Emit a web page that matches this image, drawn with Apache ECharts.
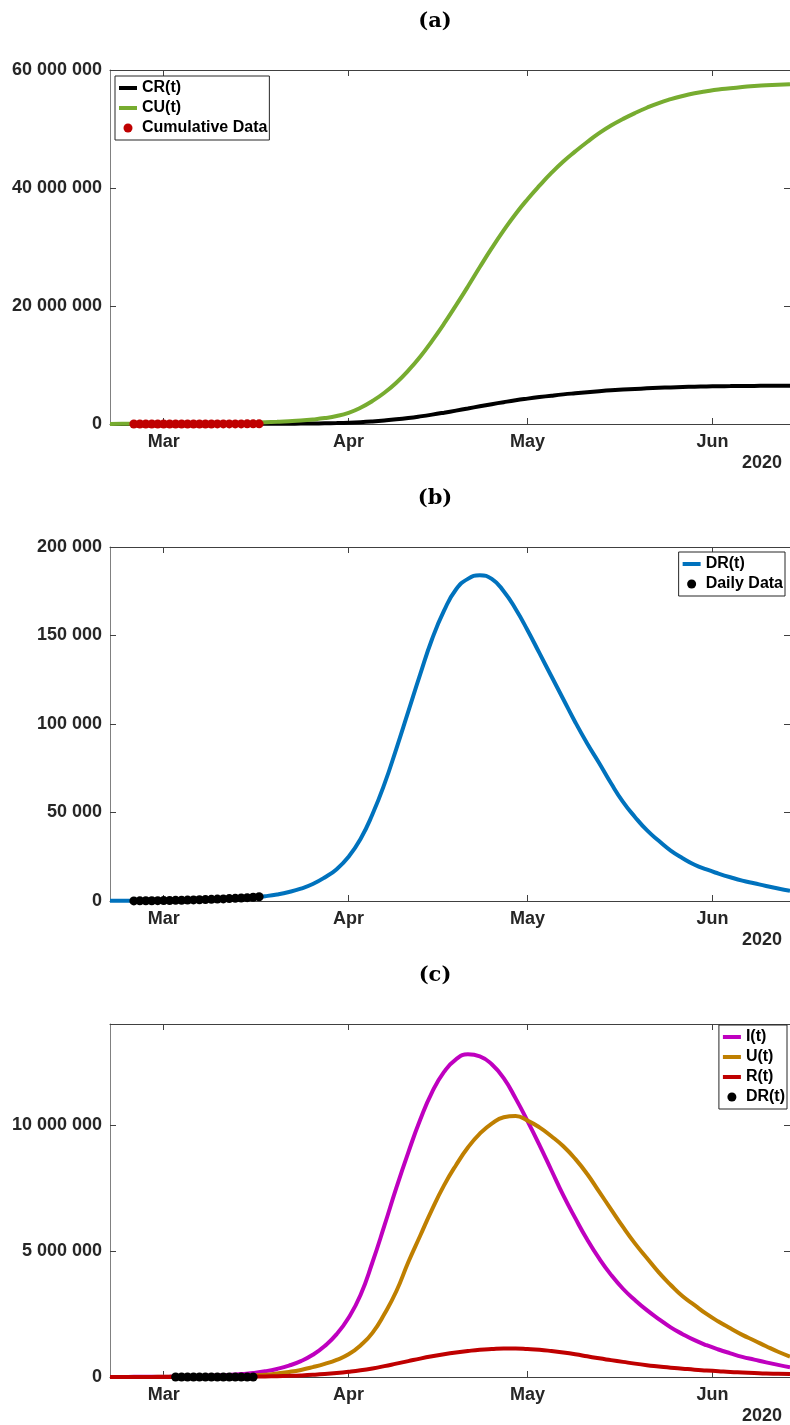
<!DOCTYPE html>
<html>
<head>
<meta charset="utf-8">
<script src="https://cdn.jsdelivr.net/npm/echarts@6/dist/echarts.min.js"></script>
<style>
  html, body { margin: 0; padding: 0; background: #fff; }
  #main { width: 790px; height: 1425px; }
</style>
</head>
<body>
<div id="main"></div>
<script>
// model curves, every 2 days
// (days counted from 1 Mar 2020: -9 = 21 Feb, 105 = 14 Jun)
var modelDays = [-9,-7,-5,-3,-1,1,3,5,7,9,11,13,15,17,19,21,23,25,27,29,31,33,35,37,39,41,43,45,
  47,49,51,53,55,57,59,61,63,65,67,69,71,73,75,77,79,81,83,85,87,89,91,93,95,97,99,101,103,105];

// (a) cumulative, millions
var crM = [0.002,0.0025,0.003,0.0035,0.004,0.005,0.006,0.008,0.01,0.013,0.017,0.021,0.027,0.034,
  0.042,0.052,0.065,0.086,0.113,0.152,0.215,0.31,0.44,0.6,0.79,1.02,1.29,1.59,1.92,2.27,2.63,3.0,
  3.36,3.7,4.02,4.3,4.56,4.8,5.02,5.21,5.39,5.56,5.71,5.83,5.94,6.04,6.13,6.2,6.27,6.32,6.36,6.4,
  6.42,6.44,6.46,6.48,6.49,6.5];
var cuM = [0.02,0.022,0.026,0.03,0.036,0.044,0.055,0.07,0.09,0.115,0.15,0.19,0.24,0.3,0.37,0.46,
  0.58,0.76,1.0,1.35,1.9,2.75,3.9,5.3,7.0,9.05,11.4,14.1,17.0,20.1,23.3,26.6,29.8,32.8,35.6,38.1,
  40.4,42.55,44.5,46.2,47.8,49.3,50.6,51.7,52.7,53.6,54.4,55.05,55.6,56.05,56.4,56.7,56.9,57.1,
  57.3,57.4,57.5,57.6];

// (b) daily reported, thousands
var drK = [0.1,0.12,0.15,0.2,0.27,0.35,0.44,0.55,0.68,0.85,1.1,1.45,1.95,2.7,3.7,5.1,7.0,9.6,13.3,
  18,25,35,49,66,86,107,128,148,164,176,182,184,182,175,165,153,140,127,114,101,89,78,66.5,56,
  47.5,40,34,28.5,24.2,20.5,17.8,15.5,13.4,11.5,10,8.5,7.1,5.8];

// (c) compartments, millions
var iM = [0.003,0.004,0.006,0.008,0.011,0.015,0.021,0.03,0.042,0.058,0.082,0.115,0.16,0.225,0.32,
  0.45,0.63,0.88,1.23,1.7,2.35,3.25,4.55,6.0,7.5,8.9,10.2,11.3,12.1,12.6,12.8,12.72,12.4,11.85,
  11.05,10.15,9.2,8.2,7.2,6.3,5.45,4.7,4.05,3.5,3.05,2.65,2.3,1.97,1.7,1.46,1.26,1.09,0.94,0.8,
  0.69,0.58,0.48,0.39];
var uM = [0.002,0.0025,0.003,0.004,0.005,0.007,0.009,0.012,0.016,0.022,0.03,0.04,0.06,0.09,0.14,
  0.2,0.28,0.39,0.52,0.68,0.9,1.25,1.75,2.5,3.4,4.55,5.6,6.65,7.6,8.4,9.1,9.65,10.05,10.3,10.35,
  10.17,9.9,9.55,9.15,8.65,8.05,7.35,6.65,5.95,5.3,4.72,4.15,3.65,3.2,2.85,2.5,2.2,1.93,1.67,1.45,
  1.22,1.0,0.81];
var rM = [0,0,0.001,0.001,0.001,0.002,0.002,0.003,0.004,0.005,0.007,0.01,0.015,0.022,0.032,0.045,
  0.062,0.085,0.115,0.155,0.205,0.265,0.34,0.43,0.53,0.63,0.73,0.82,0.9,0.97,1.03,1.08,1.11,1.13,
  1.13,1.11,1.08,1.03,0.97,0.9,0.82,0.74,0.67,0.6,0.53,0.47,0.42,0.37,0.33,0.29,0.26,0.23,0.2,
  0.18,0.16,0.14,0.13,0.12];

// reported data points (25 Feb .. 17 Mar)
var dataDays = [-5,-4,-3,-2,-1,0,1,2,3,4,5,6,7,8,9,10,11,12,13,14,15,16];
var cumData = [322,400,650,888,1128,1694,2036,2502,3089,3858,4636,5883,7375,9172,10149,12462,
  15113,17660,21157,24747,27980,31506];
var dailyData = [60,80,110,150,190,240,300,360,430,510,600,700,810,930,1060,1200,1350,1520,
  1700,1900,2150,2400];
// (c) DR(t) points (3 Mar .. 16 Mar)
var drDays = [2,3,4,5,6,7,8,9,10,11,12,13,14,15];
var drData = [360,430,510,600,700,810,930,1060,1200,1350,1520,1700,1900,2150];

var monthTicks = [0, 31, 61, 92];
var monthLabels = ['Mar', 'Apr', 'May', 'Jun'];
var panelTitles = ['(a)', '(b)', '(c)'];
var xMin = -9, xMax = 105;

var gridTops = [70, 547, 1024];
var gridH = [354, 354, 353];

function pairs(days, vals, k) {
  return days.map(function (d, i) { return [d, vals[i] * k]; });
}
function spaced(v) {
  return String(v).replace(/\B(?=(\d{3})+(?!\d))/g, ' ');
}

var axisCol = '#404040';
var labelFont = { fontSize: 18, fontWeight: 'bold', color: '#262626', fontFamily: 'Liberation Sans' };

var grids = [], xAxes = [], yAxes = [], graphics = [];
[0, 1, 2].forEach(function (i) {
  grids.push({ left: 110, top: gridTops[i], width: 681, height: gridH[i] });
  // bottom axis with month labels
  xAxes.push({
    type: 'value', gridIndex: i, min: xMin, max: xMax, position: 'bottom',
    axisLine: { show: true, onZero: false, lineStyle: { color: axisCol, width: 1 } },
    axisTick: { show: true, inside: true, length: 6, customValues: monthTicks, lineStyle: { color: axisCol } },
    axisLabel: Object.assign({
      show: true, margin: 9, customValues: monthTicks,
      formatter: function (v) { return monthLabels[monthTicks.indexOf(v)] || ''; }
    }, labelFont),
    splitLine: { show: false }
  });
  // top mirror (box)
  xAxes.push({
    type: 'value', gridIndex: i, min: xMin, max: xMax, position: 'top',
    axisLine: { show: true, onZero: false, lineStyle: { color: axisCol, width: 1 } },
    axisTick: { show: true, inside: true, length: 6, customValues: monthTicks, lineStyle: { color: axisCol } },
    axisLabel: { show: false },
    splitLine: { show: false }
  });
  graphics.push({
    type: 'text', x: 435, y: gridTops[i] - 48,
    style: { text: panelTitles[i], font: 'bold 21px "DejaVu Serif"', fill: '#000',
      align: 'center', verticalAlign: 'middle' }
  });
  graphics.push({
    type: 'text', x: 782, y: gridTops[i] + gridH[i] + 39,
    style: { text: '2020', font: 'bold 18px "Liberation Sans"', fill: '#262626',
      align: 'right', verticalAlign: 'middle' }
  });
});

var yMax = [60000000, 200000, 14000000];
var yStep = [20000000, 50000, 5000000];
[0, 1, 2].forEach(function (i) {
  yAxes.push({
    type: 'value', gridIndex: i, min: 0, max: yMax[i], interval: yStep[i], position: 'left',
    axisLine: { show: true, onZero: false, lineStyle: { color: '#808080', width: 1 } },
    axisTick: { show: true, inside: true, length: 6, lineStyle: { color: axisCol } },
    axisLabel: Object.assign({ margin: 8, showMaxLabel: i !== 2, formatter: spaced }, labelFont),
    splitLine: { show: false }
  });
  yAxes.push({
    type: 'value', gridIndex: i, min: 0, max: yMax[i], interval: yStep[i], position: 'right',
    axisLine: { show: false, onZero: false },
    axisTick: { show: true, inside: true, length: 6, lineStyle: { color: axisCol } },
    axisLabel: { show: false },
    splitLine: { show: false }
  });
});

function curve(name, grid, data, color) {
  return {
    name: name, type: 'line', xAxisIndex: grid * 2, yAxisIndex: grid * 2,
    data: data, symbol: 'none', smooth: 0.5,
    lineStyle: { width: 4, color: color }, itemStyle: { color: color },
    silent: true, z: 2
  };
}
function dots(name, grid, data, color) {
  return {
    name: name, type: 'scatter', xAxisIndex: grid * 2, yAxisIndex: grid * 2,
    data: data, symbol: 'circle', symbolSize: 9,
    itemStyle: { color: color, opacity: 1 }, silent: true, z: 3
  };
}

// line entries in the legend: hide the marker, keep the thick line
function lineItem(name) {
  return { name: name, itemStyle: { color: 'rgba(0,0,0,0)', borderColor: 'rgba(0,0,0,0)', borderWidth: 0 } };
}

var legendText = { fontSize: 16, fontWeight: 'bold', color: '#000', fontFamily: 'Liberation Sans', lineHeight: 18 };
function legend(pos, names) {
  return Object.assign({
    orient: 'vertical', data: names, itemWidth: 18, itemHeight: 9, itemGap: 2,
    padding: [3, 2, 3, 2], borderColor: '#262626', borderWidth: 1, backgroundColor: '#fff',
    selectedMode: false, textStyle: legendText, lineStyle: { width: 4 },
    formatter: function (n) { return n.trim(); }
  }, pos);
}

var option = {
  animation: false,
  backgroundColor: '#fff',
  textStyle: { fontFamily: 'Liberation Sans' },
  grid: grids,
  xAxis: xAxes,
  yAxis: yAxes,
  graphic: graphics,
  legend: [
    legend({ left: 115, top: 76 }, [lineItem('CR(t)'), lineItem('CU(t)'), 'Cumulative Data']),
    legend({ right: 5, top: 552 }, [lineItem('DR(t)'), 'Daily Data']),
    legend({ right: 3, top: 1025 }, [lineItem('I(t)'), lineItem('U(t)'), lineItem('R(t)'), 'DR(t) '])
  ],
  series: [
    curve('CR(t)', 0, pairs(modelDays, crM, 1e6), '#000000'),
    curve('CU(t)', 0, pairs(modelDays, cuM, 1e6), '#77AC30'),
    dots('Cumulative Data', 0, pairs(dataDays, cumData, 1), '#BF0000'),
    curve('DR(t)', 1, pairs(modelDays, drK, 1e3), '#0072BD'),
    dots('Daily Data', 1, pairs(dataDays, dailyData, 1), '#000000'),
    curve('I(t)', 2, pairs(modelDays, iM, 1e6), '#BF00BF'),
    curve('U(t)', 2, pairs(modelDays, uM, 1e6), '#BF7F00'),
    curve('R(t)', 2, pairs(modelDays, rM, 1e6), '#BF0000'),
    dots('DR(t) ', 2, pairs(drDays, drData, 1), '#000000')
  ]
};

var chart = echarts.init(document.getElementById('main'), null, { renderer: 'canvas' });
chart.setOption(option);
</script>
</body>
</html>
